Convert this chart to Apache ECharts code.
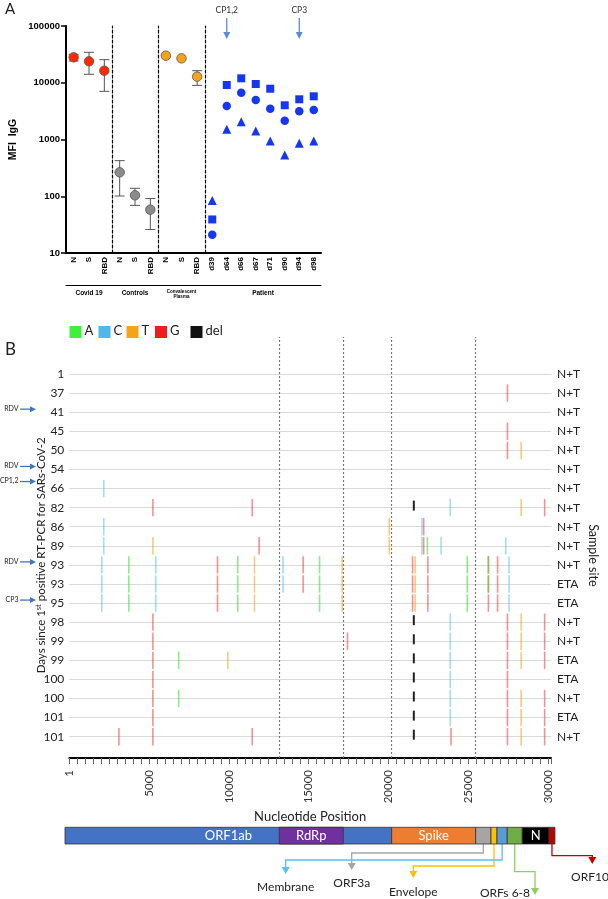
<!DOCTYPE html>
<html><head><meta charset="utf-8">
<script src="https://cdn.jsdelivr.net/npm/echarts@6/dist/echarts.min.js"></script>
<style>html,body{margin:0;padding:0;background:#fff}#c{width:608px;height:899px}</style>
</head><body><div id="c"></div>
<script>
// ---------- Panel A data ----------
const antigenCats = ['N', 'S', 'RBD'];
const groupNames = ['Covid 19', 'Controls', 'Convalescent\nPlasma', 'Patient'];
const covidMean = [28000, 23900, 16300];
const covidLow = [24200, 14100, 7060];
const covidHigh = [31700, 34400, 25500];
const controlMean = [264, 104, 58];
const controlLow = [101, 69, 26];
const controlHigh = [424, 138, 91];
const plasmaMean = [30000, 26900, 12800];
const plasmaLow = [30000, 26900, 9000];
const plasmaHigh = [30000, 26900, 16300];
const patientDays = ['d39', 'd64', 'd66', 'd67', 'd71', 'd90', 'd94', 'd98'];
const patientN = [39, 9130, 11970, 9500, 7850, 4010, 5110, 5770];
const patientS = [21, 3890, 6680, 4970, 3490, 2140, 3140, 3310];
const patientRBD = [84, 1510, 2060, 1410, 942, 533, 857, 942];

// ---------- Panel B data ----------
const sampleDays = ['1','37','41','45','50','54','66','82','86','89','93','93','95','98','99','99','100','100','101','101'];
const sampleSites = ['N+T','N+T','N+T','N+T','N+T','N+T','N+T','N+T','N+T','N+T','N+T','ETA','ETA','N+T','N+T','ETA','ETA','N+T','ETA','N+T'];
const bases = ['A', 'C', 'T', 'G', 'del'];
const mutPos  = [2160, 2040, 3730, 3110, 5240, 5240, 5420, 6860, 9290, 9940, 10560, 11470, 11610, 11900, 13400, 14660, 15690, 17110, 17440, 20060, 21520, 21600, 21680, 22110, 22220, 22450, 22480, 23310, 23885, 23930, 24950, 26275, 26275, 26850, 27360, 27470, 27570, 28330, 29800];
const mutBase = ['C',  'C',  'A',  'G',  'G',  'T',  'C',  'A',  'G',  'T',  'A',   'G',   'T',   'G',   'C',   'G',   'A',   'T',   'G',   'T',   'G',   'del', 'T',   'C',   'G',   'A',   'G',   'C',   'C',   'G',   'A',   'G',   'A',   'G',   'C',   'G',   'C',   'T',   'G'];
const mutRows = [
  [6,8,9], [10,11,12], [10,11,12], [19], [7,13,14,15,16,17,18,19], [9], [10,11,12], [15,17], [10,11,12], [15],
  [10,11,12], [7,19], [10,11,12], [9], [10,11], [10,11], [10,11,12], [10,11,12], [14], [8,9],
  [10,11,12], [7,13,14,15,16,17,18,19], [10,11,12], [8,9], [8,9], [9], [10,11,12], [9], [7,13,14,15,16,17,18], [19],
  [10,11,12], [10,11,12], [10,11], [10,11,12], [9], [1,3,4,13,14,15,16,17,18,19], [10,11,12], [4,7,13,14,15,17,18,19], [7,13,14,15,17,18,19]
];
const geneNames = ['ORF1ab', 'RdRp', 'Spike', 'ORF3a', 'Envelope', 'Membrane', 'ORFs 6-8', 'N', 'ORF10'];
const geneStart = [-266, 12971, 19913, 25102, 26050, 26420, 27054, 27980, 29630];
const geneEnd   = [19913, 16924, 25102, 26050, 26420, 27054, 27980, 29630, 30000];
const geneInBar = [true, true, true, false, false, false, false, true, false];

// ---------- styles ----------
const FONT = 'Lato, "Open Sans", sans-serif';
const AFONT = '"Liberation Sans", Arial, sans-serif';
const baseColor = { A: 'rgba(60,225,60,0.6)', C: 'rgba(90,190,240,0.55)', T: 'rgba(245,166,35,0.6)', G: 'rgba(238,55,55,0.55)', del: '#222' };
const baseLegendColor = { A: '#3cf03c', C: '#4fb8ec', T: '#f5a31a', G: '#ee1c1c', del: '#111' };
const geneColors = ['#4472c4', '#7030a0', '#ed7d31', '#a5a5a5', '#ffc000', '#5b9bd5', '#70ad47', '#000000', '#c00000'];

const chart = echarts.init(document.getElementById('c'), null, { renderer: 'canvas' });

// Panel A grid geometry
const gridsA = [
  { left: 66, width: 46 }, { left: 112, width: 46 }, { left: 158, width: 47 }, { left: 205, width: 116 }
];
const topA = 26, heightA = 227;

const grid = gridsA.map(g => ({ left: g.left, width: g.width, top: topA, height: heightA }));
const BLEFT = 69.3, BWIDTH = 488.9, XMAXB = 30200;
grid.push({ left: BLEFT, width: BWIDTH, top: 374, height: 362.7 });   // 4 rows
grid.push({ left: BLEFT, width: BWIDTH, top: 337, height: 421 });     // 5 dashed
grid.push({ left: BLEFT, width: BWIDTH, top: 827.3, height: 16.7 });  // 6 genome

const xAxis = [];
const yAxis = [];
const catsA = [antigenCats, antigenCats, antigenCats, patientDays];
catsA.forEach((cats, g) => {
  xAxis.push({
    gridIndex: g, type: 'category', data: cats, boundaryGap: true,
    axisLine: { lineStyle: { color: '#000', width: 2 } },
    axisTick: { alignWithLabel: true, length: 3, lineStyle: { color: '#000', width: 1 } },
    axisLabel: { rotate: 90, fontSize: 8, fontWeight: 'bold', color: '#000', fontFamily: AFONT, margin: 4 }
  });
});
groupNames.forEach((nm, g) => {
  xAxis.push({
    gridIndex: g, type: 'category', data: [nm], position: 'bottom', offset: 32, boundaryGap: true,
    axisLine: { lineStyle: { color: '#000', width: 1 } },
    axisTick: { inside: true, length: 5, lineStyle: { color: '#000', width: 1 } },
    axisLabel: { fontSize: g === 2 ? 4.5 : 6.5, lineHeight: g === 2 ? 5 : 8, fontWeight: 'bold', color: '#000', fontFamily: AFONT, margin: 4 }
  });
});
for (let g = 0; g < 4; g++) {
  yAxis.push(g === 0 ? {
    gridIndex: 0, type: 'log', logBase: 10, min: 10, max: 100000,
    name: 'MFI  IgG', nameLocation: 'middle', nameGap: 47, nameMoveOverlap: false,
    nameTextStyle: { fontSize: 10.5, fontWeight: 'bold', color: '#000', fontFamily: AFONT },
    axisLine: { show: true, lineStyle: { color: '#000', width: 2 } },
    axisTick: { show: true, length: 5, lineStyle: { color: '#000', width: 1.5 } },
    axisLabel: { fontSize: 9.5, fontWeight: 'bold', color: '#000', fontFamily: AFONT, margin: 6, formatter: v => String(Math.round(v)) },
    splitLine: { show: false }, minorTick: { show: false }
  } : {
    gridIndex: g, type: 'log', logBase: 10, min: 10, max: 100000,
    axisLine: { show: true, lineStyle: { color: '#000', width: 1.2, type: [3, 2] } },
    axisTick: { show: false }, axisLabel: { show: false }, splitLine: { show: false }
  });
}
// Panel B axes
xAxis.push({
  gridIndex: 4, type: 'value', min: 0, max: XMAXB, interval: 500, offset: 21.3,
  name: 'Nucleotide Position', nameLocation: 'middle', nameGap: 52,
  nameTextStyle: { fontSize: 13, color: '#222', fontFamily: FONT },
  axisLine: { show: true, lineStyle: { color: '#000', width: 2 } },
  axisTick: { show: true, length: 6, lineStyle: { color: '#666', width: 1 } },
  axisLabel: { rotate: 90, fontSize: 11.5, color: '#333', fontFamily: FONT, margin: 12,
    formatter: v => v === 0 ? '1' : (v % 5000 === 0 && v <= 30000 ? String(v) : '') },
  splitLine: { show: false }
});
xAxis.push({ gridIndex: 5, type: 'value', min: 0, max: XMAXB, show: false });
xAxis.push({ gridIndex: 6, type: 'value', min: 0, max: XMAXB, show: false });
yAxis.push({
  gridIndex: 4, type: 'category', data: sampleDays, inverse: true, boundaryGap: false,
  name: 'Days since 1{sup|st} positive RT-PCR for SARs-CoV-2', nameLocation: 'middle', nameGap: 21, nameRotate: 90,
  nameMoveOverlap: false,
  nameTextStyle: { fontSize: 11.5, color: '#222', fontFamily: FONT, rich: { sup: { fontSize: 7.5, color: '#222', fontFamily: FONT, verticalAlign: 'top', padding: [0, 0, 6, 0] } } },
  axisLine: { show: false }, axisTick: { show: false },
  axisLabel: { fontSize: 12, color: '#222', fontFamily: FONT, margin: 5 },
  splitLine: { show: true, lineStyle: { color: '#d9d9d9', width: 1 } }
});
yAxis.push({
  gridIndex: 4, type: 'category', data: sampleSites, inverse: true, boundaryGap: false, position: 'right',
  name: 'Sample site', nameLocation: 'middle', nameGap: 36, nameRotate: -90, nameMoveOverlap: false,
  nameTextStyle: { fontSize: 12.5, color: '#222', fontFamily: FONT },
  axisLine: { show: false }, axisTick: { show: false },
  axisLabel: { fontSize: 12, color: '#222', fontFamily: FONT, margin: 6 },
  splitLine: { show: false }
});
yAxis.push({ gridIndex: 5, type: 'value', min: 0, max: 1, show: false });
yAxis.push({ gridIndex: 6, type: 'value', min: 0, max: 1, show: false });

function errSeries(g, mean, low, high) {
  return {
    type: 'custom', xAxisIndex: g, yAxisIndex: g, z: 2,
    data: mean.map((m, i) => [i, m, low[i], high[i]]),
    encode: { x: 0, y: 1 },
    renderItem: (params, api) => {
      const i = api.value(0), lo = api.value(2), hi = api.value(3);
      if (lo === hi) return null;
      const pl = api.coord([i, lo]), ph = api.coord([i, hi]);
      const w = 5;
      const st = { stroke: '#555', lineWidth: 1 };
      return { type: 'group', children: [
        { type: 'line', shape: { x1: pl[0], y1: pl[1], x2: ph[0], y2: ph[1] }, style: st },
        { type: 'line', shape: { x1: pl[0] - w, y1: pl[1], x2: pl[0] + w, y2: pl[1] }, style: st },
        { type: 'line', shape: { x1: ph[0] - w, y1: ph[1], x2: ph[0] + w, y2: ph[1] }, style: st }
      ] };
    }
  };
}
function dotSeries(g, vals, color, symbol, size) {
  return {
    type: 'scatter', xAxisIndex: g, yAxisIndex: g, z: 5, symbol: symbol, symbolSize: size,
    data: vals.map((v, i) => [i, v]),
    itemStyle: { color: color, borderColor: symbol === 'circle' && g < 3 ? '#555' : color, borderWidth: g < 3 ? 0.8 : 0, opacity: 1 }
  };
}

const markData = [];
mutPos.forEach((p, i) => mutRows[i].forEach(r => markData.push([p, r, bases.indexOf(mutBase[i])])));

const series = [
  errSeries(0, covidMean, covidLow, covidHigh), dotSeries(0, covidMean, '#ff2a00', 'circle', 9.5),
  errSeries(1, controlMean, controlLow, controlHigh), dotSeries(1, controlMean, '#8c8c8c', 'circle', 9.5),
  errSeries(2, plasmaMean, plasmaLow, plasmaHigh), dotSeries(2, plasmaMean, '#f7a21b', 'circle', 9.5),
  dotSeries(3, patientN, '#1537f0', 'rect', 8),
  dotSeries(3, patientS, '#1537f0', 'circle', 8.5),
  dotSeries(3, patientRBD, '#1537f0', 'triangle', 9),
  {
    type: 'custom', xAxisIndex: 8, yAxisIndex: 4, clip: false, z: 3,
    data: markData, encode: { x: 0, y: 1 },
    renderItem: (params, api) => {
      const b = bases[api.value(2)];
      const p = api.coord([api.value(0), api.value(1)]);
      if (b === 'del') return { type: 'rect', shape: { x: p[0] - 1, y: p[1] - 7, width: 2, height: 10 }, style: { fill: baseColor.del } };
      return { type: 'rect', shape: { x: p[0] - 0.8, y: p[1] - 8.7, width: 1.6, height: 17.4 }, style: { fill: baseColor[b] } };
    }
  },
  {
    type: 'line', xAxisIndex: 9, yAxisIndex: 6, data: [[0, 0]], showSymbol: false, lineStyle: { opacity: 0 }, silent: true,
    markLine: {
      symbol: ['none', 'none'], silent: true, label: { show: false }, animation: false,
      lineStyle: { color: '#777', type: [2, 2], width: 1.2 },
      data: [geneStart[1], geneEnd[1], geneStart[2], geneEnd[2]].map(v => ({ xAxis: v }))
    }
  },
  {
    type: 'custom', xAxisIndex: 10, yAxisIndex: 7, clip: false, z: 3,
    data: geneNames.map((n, i) => [geneStart[i], geneEnd[i], i]),
    encode: { x: [0, 1] },
    renderItem: (params, api) => {
      const i = api.value(2);
      const p1 = api.coord([api.value(0), 1]), p2 = api.coord([api.value(1), 0]);
      const children = [{ type: 'rect', shape: { x: p1[0], y: p1[1], width: p2[0] - p1[0], height: p2[1] - p1[1] },
        style: { fill: geneColors[i], stroke: '#333', lineWidth: 0.8 } }];
      if (geneInBar[i]) {
        let cx = (p1[0] + p2[0]) / 2;
        children.push({ type: 'text', x: cx, y: (p1[1] + p2[1]) / 2, style: { text: geneNames[i], fill: '#fff', fontSize: 13, fontFamily: FONT, align: 'center', verticalAlign: 'middle' } });
      }
      return { type: 'group', children };
    }
  }
];

chart.setOption({ animation: false, backgroundColor: '#fff', grid, xAxis, yAxis, series });

// ---------- annotations (placed from the axes) ----------
const graphic = [];
function txt(x, y, s, size, opt) {
  graphic.push(Object.assign({ type: 'text', x, y, style: Object.assign({ text: s, fontSize: size, fontFamily: FONT, fill: '#222' }, opt || {}) }));
}
txt(5, 2, 'A', 15);
txt(5, 341, 'B', 17);
// CP arrows in panel A
[['CP1,2', 0.5], ['CP3', 5.5]].forEach(([lab, idx]) => {
  const x = chart.convertToPixel({ gridIndex: 3 }, [idx, 100])[0];
  txt(x, 6, lab, 8.5, { align: 'center', fill: '#333' });
  graphic.push({ type: 'line', shape: { x1: x, y1: 18, x2: x, y2: 33 }, style: { stroke: '#5b8bd6', lineWidth: 1.3 } });
  graphic.push({ type: 'polygon', shape: { points: [[x - 3.5, 32], [x + 3.5, 32], [x, 39]] }, style: { fill: '#5b8bd6' } });
});
// legend B
const legX = [69.5, 98.5, 126.5, 155, 190.5];
bases.forEach((b, i) => {
  graphic.push({ type: 'rect', shape: { x: legX[i], y: 326, width: 12, height: 12 }, style: { fill: baseLegendColor[b] } });
  txt(legX[i] + 15, 324, b, 13, { fill: '#222' });
});
// left annotations (RDV / CP)
const annotRows = [2, 5, 6, 10, 12];
const annotText = ['RDV', 'RDV', 'CP1,2', 'RDV', 'CP3'];
annotRows.forEach((r, i) => {
  const y = chart.convertToPixel({ gridIndex: 4 }, [0, r])[1] + (annotText[i] === 'CP1,2' ? -7 : -3);
  txt(18.5, y - 4, annotText[i], 7, { align: 'right' });
  graphic.push({ type: 'line', shape: { x1: 20, y1: y, x2: 31, y2: y }, style: { stroke: '#4472c4', lineWidth: 1.3 } });
  graphic.push({ type: 'polygon', shape: { points: [[30, y - 3], [30, y + 3], [36, y]] }, style: { fill: '#4472c4' } });
});
// gene connectors
const conn = [
  { g: 3, elbow: 853, tx: 351.7, tip: 870, ly: 877, color: '#a6a6a6', lx: 351.7 },
  { g: 4, elbow: 866, tx: 413.3, tip: 878, ly: 886, color: '#ffc000', lx: 413.3 },
  { g: 5, elbow: 860, tx: 285.7, tip: 874, ly: 881, color: '#56c1f0', lx: 285.7 },
  { g: 6, elbow: 871.7, tx: 535, tip: 895, ly: 887, color: '#8fce5c', lx: 505 },
  { g: 8, elbow: 855.7, tx: 592.3, tip: 864, ly: 871, color: '#c00000', lx: 590 }
];
conn.forEach(c => {
  const sx = chart.convertToPixel({ gridIndex: 6 }, [(geneStart[c.g] + geneEnd[c.g]) / 2, 0]);
  graphic.push({ type: 'polyline', shape: { points: [[sx[0], sx[1]], [sx[0], c.elbow], [c.tx, c.elbow], [c.tx, c.tip - 6]] }, style: { stroke: c.color, lineWidth: 1.3, fill: null } });
  graphic.push({ type: 'polygon', shape: { points: [[c.tx - 4, c.tip - 7], [c.tx + 4, c.tip - 7], [c.tx, c.tip]] }, style: { fill: c.color } });
  txt(c.lx, c.ly, geneNames[c.g], 12, { align: 'center' });
});
chart.setOption({ graphic });
</script></body></html>
